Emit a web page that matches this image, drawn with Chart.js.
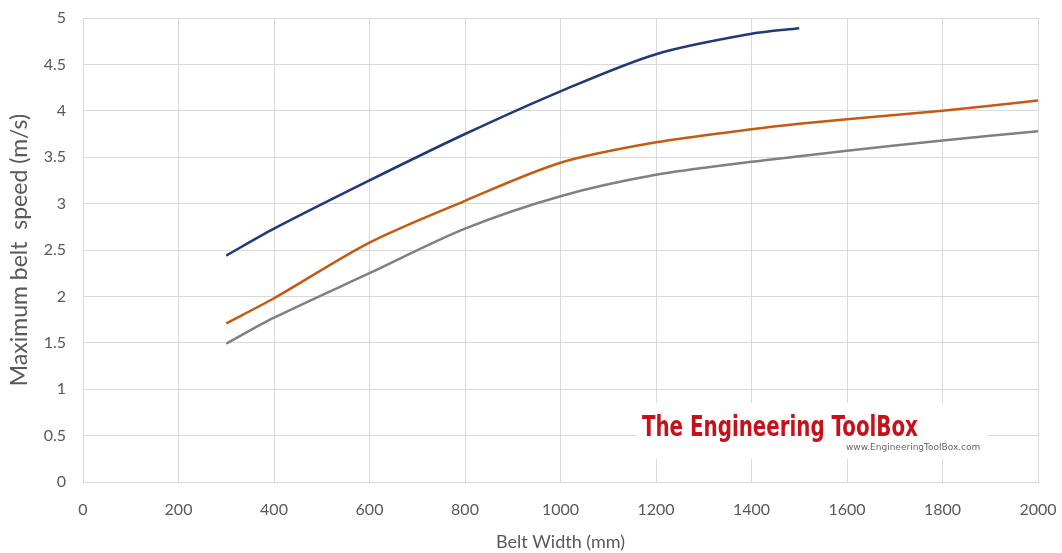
<!DOCTYPE html>
<html>
<head>
<meta charset="utf-8">
<script src="https://cdn.jsdelivr.net/npm/chart.js@4"></script>
<style>
  html, body { margin: 0; padding: 0; background: #fff; }
  #wrap { width: 1062px; height: 553px; }
</style>
</head>
<body>
<div id="wrap"><canvas id="myChart" width="1062" height="553"></canvas></div>
<script>
// belt width (mm)
const widths = [300, 400, 600, 800, 1000, 1200, 1400, 1500, 1600, 1800, 2000];
// maximum belt speed (m/s), three material classes
const speedBlue   = [2.44, 2.73, 3.25, 3.75, 4.21, 4.61, 4.83, 4.89, null, null, null];
const speedOrange = [1.71, 1.98, 2.58, 3.03, 3.44, 3.66, 3.80, 3.86, 3.91, 4.00, 4.11];
const speedGray   = [1.49, 1.77, 2.25, 2.73, 3.08, 3.31, 3.45, 3.51, 3.57, 3.68, 3.78];

const xTicks = [0, 200, 400, 600, 800, 1000, 1200, 1400, 1600, 1800, 2000];
const yTicks = [0, 0.5, 1, 1.5, 2, 2.5, 3, 3.5, 4, 4.5, 5];

const toPoints = arr => widths.map((w, i) => ({ x: w, y: arr[i] })).filter(p => p.y !== null);

const fam = 'Lato, "Open Sans", sans-serif';
const textColor = '#595959';
const gridColor = '#d9d9d9';

// white box with the site logo
const logo = {
  id: 'logo',
  beforeDatasetsDraw(chart) {
    const { ctx, chartArea: a } = chart;
    const w = a.right - a.left, h = a.bottom - a.top;
    const x0 = a.left + w * 0.58, x1 = a.left + w * 0.948;
    const y0 = a.top + h * 0.83, y1 = a.top + h * 0.95;
    ctx.save();
    ctx.fillStyle = '#fff';
    ctx.fillRect(x0, y0, x1 - x0, y1 - y0);

    ctx.font = 'bold 28px "DejaVu Sans Condensed", "DejaVu Sans", sans-serif';
    ctx.fillStyle = '#c8101a';
    const txt = 'The Engineering ToolBox';
    const tw = ctx.measureText(txt).width;
    ctx.translate(x0 + 5, y0 + 33);
    ctx.scale(276 / tw, 1);
    ctx.fillText(txt, 0, 0);
    ctx.restore();

    ctx.save();
    ctx.font = '9px "DejaVu Sans", sans-serif';
    ctx.fillStyle = '#666';
    ctx.textAlign = 'right';
    ctx.fillText('www.EngineeringToolBox.com', x1 - 8, y0 + 47);
    ctx.restore();
  }
};

const ds = (label, arr, color) => ({
  label: label,
  data: toPoints(arr),
  borderColor: color,
  backgroundColor: color,
  borderWidth: 2.5,
  pointRadius: 0,
  tension: 0.3,
  fill: false
});

new Chart(document.getElementById('myChart'), {
  type: 'line',
  data: {
    datasets: [
      ds('Series 1', speedBlue, '#1f3a78'),
      ds('Series 2', speedOrange, '#c55a11'),
      ds('Series 3', speedGray, '#808080')
    ]
  },
  options: {
    responsive: false,
    animation: false,
    layout: { padding: { top: 18, right: 24, left: 0, bottom: 0 } },
    plugins: {
      legend: { display: false },
      tooltip: { enabled: false }
    },
    scales: {
      x: {
        type: 'linear',
        min: 0, max: 2000,
        afterBuildTicks: s => { s.ticks = xTicks.map(v => ({ value: v })); },
        afterFit: s => { s.height = 71; s.paddingLeft = 0; s.paddingRight = 0; },
        grid: { color: gridColor, drawTicks: false },
        border: { color: gridColor },
        ticks: { color: textColor, font: { family: fam, size: 16 }, padding: 18, maxRotation: 0, callback: v => String(v) },
        title: { display: true, text: 'Belt Width (mm)', color: textColor, font: { family: fam, size: 18 }, padding: { top: 2, bottom: 0 } }
      },
      y: {
        min: 0, max: 5,
        afterBuildTicks: s => { s.ticks = yTicks.map(v => ({ value: v })); },
        afterFit: s => { s.width = 83; s.paddingTop = 0; s.paddingBottom = 0; },
        grid: { color: gridColor, drawTicks: false },
        border: { color: gridColor },
        ticks: { color: textColor, font: { family: fam, size: 16 }, padding: 17, callback: v => String(v) },
        title: { display: true, text: 'Maximum belt  speed (m/s)', color: textColor, font: { family: fam, size: 23 }, padding: { top: 6, bottom: 4 } }
      }
    }
  },
  plugins: [logo]
});
</script>
</body>
</html>
